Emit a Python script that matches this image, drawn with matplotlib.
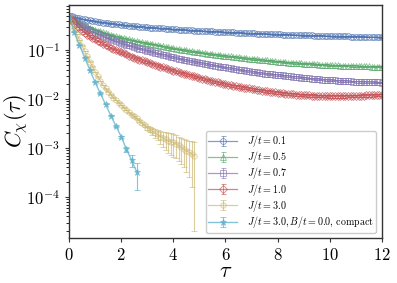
import numpy as np
import matplotlib
matplotlib.use('Agg')
import matplotlib.pyplot as plt

plt.rcParams['mathtext.fontset'] = 'cm'
plt.rcParams['font.family'] = ['cmr10', 'DejaVu Serif']
plt.rcParams['axes.formatter.use_mathtext'] = True

# imaginary time grid (step 0.1) for the long series
tau_long = [round(0.1 * i, 1) for i in range(121)]

c_j01 = [0.500, 0.484, 0.469, 0.455, 0.442, 0.430, 0.420, 0.410, 0.401, 0.393,
         0.385, 0.378, 0.371, 0.364, 0.358, 0.352, 0.347, 0.342, 0.337, 0.332,
         0.327, 0.323, 0.319, 0.315, 0.311, 0.307, 0.304, 0.300, 0.297, 0.294,
         0.291, 0.288, 0.286, 0.283, 0.281, 0.278, 0.276, 0.273, 0.271, 0.268,
         0.266, 0.264, 0.262, 0.260, 0.258, 0.256, 0.254, 0.252, 0.250, 0.249,
         0.247, 0.245, 0.244, 0.242, 0.241, 0.239, 0.238, 0.236, 0.235, 0.233,
         0.232, 0.231, 0.229, 0.228, 0.226, 0.225, 0.224, 0.223, 0.221, 0.220,
         0.219, 0.218, 0.217, 0.216, 0.215, 0.214, 0.213, 0.212, 0.211, 0.210,
         0.209, 0.208, 0.207, 0.206, 0.205, 0.204, 0.203, 0.202, 0.202, 0.201,
         0.200, 0.199, 0.198, 0.198, 0.197, 0.196, 0.195, 0.195, 0.194, 0.194,
         0.193, 0.192, 0.192, 0.191, 0.191, 0.190, 0.189, 0.189, 0.188, 0.188,
         0.187, 0.187, 0.186, 0.186, 0.185, 0.185, 0.184, 0.184, 0.184, 0.183,
         0.183]

c_j05 = [0.500, 0.455, 0.418, 0.388, 0.362, 0.340, 0.321, 0.304, 0.288, 0.273,
         0.260, 0.249, 0.239, 0.229, 0.219, 0.210, 0.203, 0.196, 0.190, 0.184,
         0.178, 0.173, 0.168, 0.164, 0.159, 0.155, 0.151, 0.147, 0.144, 0.140,
         0.137, 0.134, 0.131, 0.128, 0.125, 0.122, 0.119, 0.116, 0.113, 0.110,
         0.108, 0.106, 0.104, 0.102, 0.100, 0.098, 0.096, 0.094, 0.092, 0.091,
         0.089, 0.0876, 0.0862, 0.0848, 0.0834, 0.082, 0.0808, 0.0796, 0.0784, 0.0772,
         0.076, 0.075, 0.074, 0.073, 0.072, 0.071, 0.070, 0.069, 0.068, 0.067,
         0.066, 0.0652, 0.0644, 0.0636, 0.0628, 0.062, 0.0612, 0.0604, 0.0596, 0.0588,
         0.058, 0.0574, 0.0568, 0.0562, 0.0556, 0.055, 0.0546, 0.0542, 0.0538, 0.0534,
         0.053, 0.0526, 0.0522, 0.0518, 0.0514, 0.051, 0.0506, 0.0502, 0.0498, 0.0494,
         0.049, 0.0488, 0.0486, 0.0484, 0.0482, 0.048, 0.0478, 0.0476, 0.0474, 0.0472,
         0.047, 0.0468, 0.0466, 0.0464, 0.0462, 0.0461, 0.0460, 0.0460, 0.0460, 0.0460,
         0.0460]

c_j07 = [0.500, 0.446, 0.400, 0.363, 0.334, 0.310, 0.289, 0.270, 0.253, 0.238,
         0.225, 0.213, 0.202, 0.191, 0.181, 0.172, 0.164, 0.157, 0.150, 0.144,
         0.138, 0.133, 0.128, 0.124, 0.119, 0.115, 0.111, 0.107, 0.104, 0.100,
         0.097, 0.094, 0.091, 0.088, 0.085, 0.082, 0.080, 0.078, 0.075, 0.073,
         0.071, 0.069, 0.067, 0.065, 0.0635, 0.062, 0.0605, 0.059, 0.0576, 0.0563,
         0.055, 0.0538, 0.0526, 0.0514, 0.0502, 0.049, 0.048, 0.047, 0.046, 0.045,
         0.044, 0.0432, 0.0424, 0.0416, 0.0408, 0.040, 0.0392, 0.0384, 0.0376, 0.0368,
         0.036, 0.0354, 0.0348, 0.0342, 0.0336, 0.033, 0.0326, 0.0322, 0.0318, 0.0314,
         0.031, 0.0306, 0.0302, 0.0298, 0.0294, 0.029, 0.0286, 0.0282, 0.0278, 0.0274,
         0.027, 0.0267, 0.0264, 0.0261, 0.0258, 0.0255, 0.0253, 0.0250, 0.0248, 0.0245,
         0.0243, 0.0241, 0.0239, 0.0237, 0.0235, 0.0233, 0.0232, 0.0230, 0.0229, 0.0227,
         0.0226, 0.0225, 0.0223, 0.0222, 0.0221, 0.0220, 0.0219, 0.0219, 0.0218, 0.0218,
         0.0217]

c_j10 = [0.470, 0.405, 0.355, 0.314, 0.279, 0.250, 0.227, 0.207, 0.190, 0.177,
         0.165, 0.154, 0.144, 0.135, 0.126, 0.118, 0.111, 0.105, 0.099, 0.094,
         0.089, 0.085, 0.081, 0.077, 0.073, 0.070, 0.067, 0.064, 0.062, 0.059,
         0.057, 0.0547, 0.0524, 0.0502, 0.048, 0.046, 0.0443, 0.0427, 0.0411, 0.0395,
         0.038, 0.0367, 0.0354, 0.0342, 0.0331, 0.032, 0.031, 0.030, 0.029, 0.028,
         0.027, 0.0262, 0.0254, 0.0246, 0.0238, 0.023, 0.0224, 0.0218, 0.0212, 0.0206,
         0.020, 0.0195, 0.0191, 0.0186, 0.0182, 0.0178, 0.0174, 0.0171, 0.0167, 0.0164,
         0.016, 0.0157, 0.0154, 0.0152, 0.0149, 0.0146, 0.0144, 0.0142, 0.0139, 0.0137,
         0.0135, 0.0133, 0.0131, 0.0129, 0.0128, 0.0126, 0.0125, 0.0123, 0.0122, 0.0121,
         0.0120, 0.0119, 0.0118, 0.0117, 0.0117, 0.0116, 0.0116, 0.0115, 0.0115, 0.0114,
         0.0114, 0.0114, 0.0114, 0.0114, 0.0114, 0.0114, 0.0114, 0.0115, 0.0115, 0.0115,
         0.0116, 0.0116, 0.0117, 0.0117, 0.0118, 0.0119, 0.0119, 0.0120, 0.0121, 0.0121,
         0.0122]

# relative statistical error of the long series
rel_err = [0.02, 0.03, 0.04, 0.06]

tau_j30 = [round(0.1 * i, 1) for i in range(49)]
c_j30 = [0.500, 0.370, 0.280, 0.210, 0.160, 0.123, 0.095, 0.074, 0.058, 0.046,
         0.036, 0.029, 0.0236, 0.0195, 0.0165, 0.0142, 0.0123, 0.0107, 0.0095, 0.0084,
         0.0075, 0.0067, 0.0060, 0.0054, 0.0048, 0.0044, 0.0040, 0.0036, 0.0032, 0.0029,
         0.0026, 0.0024, 0.0022, 0.0020, 0.0019, 0.0017, 0.0016, 0.0015, 0.0014, 0.00135,
         0.0013, 0.00122, 0.00113, 0.00104, 0.00095, 0.00088, 0.00082, 0.00076, 0.00068]
e_j30 = [0.005, 0.004, 0.003, 0.002, 0.0015, 0.0012, 0.001, 0.0008, 0.0006, 0.0005,
         0.0004, 0.0003, 0.00025, 0.0002, 0.00018, 0.00016, 0.00014, 0.00013, 0.00012, 0.00011,
         0.0001, 0.0001, 0.0001, 0.00011, 0.00012, 0.00014, 0.00016, 0.00018, 0.0002, 0.00022,
         0.00025, 0.0003, 0.00035, 0.0004, 0.00045, 0.0005, 0.00055, 0.0006, 0.00062, 0.00064,
         0.00065, 0.0006, 0.00058, 0.00056, 0.00054, 0.00055, 0.00056, 0.0006, 0.00066]

tau_cmp = [0.0, 0.2, 0.4, 0.6, 0.8, 1.0, 1.2, 1.4, 1.6, 1.8, 2.0, 2.2, 2.4, 2.6]
c_cmp = [0.50, 0.23, 0.125, 0.07, 0.039, 0.022, 0.013, 0.0078, 0.0046, 0.0028, 0.0017,
         0.00095, 0.00056, 0.00032]
e_cmp = [0.003, 0.002, 0.001, 0.0006, 0.0003, 0.0002, 0.0001, 0.00008, 0.00006, 0.00006,
         0.00008, 0.00012, 0.00015, 0.00018]

labels = [r'$J/t = 0.1$', r'$J/t = 0.5$', r'$J/t = 0.7$', r'$J/t = 1.0$', r'$J/t = 3.0$',
          r'$J/t = 3.0, B/t = 0.0$, $\mathrm{compact}$']
colors = ['#4C72B0', '#55A868', '#8172B2', '#C44E52', '#CCB974', '#64B5CD']
markers = ['o', '^', 's', 'D', 'h', '*']

fig = plt.figure(figsize=(3.97, 2.83), dpi=100)
ax = fig.add_axes([0.1738, 0.159, 0.7884, 0.8233])

long_series = [c_j01, c_j05, c_j07, c_j10]
for i, c in enumerate(long_series):
    err = np.array(c) * rel_err[i]
    ax.errorbar(tau_long, c, yerr=err, color=colors[i], marker=markers[i], mfc='none',
                ms=4.2, mew=0.6, lw=0.9, elinewidth=0.6, capsize=1.8, alpha=0.7,
                label=labels[i])
ax.errorbar(tau_j30, c_j30, yerr=e_j30, color=colors[4], marker=markers[4], mfc='none',
            ms=4.2, mew=0.6, lw=0.9, elinewidth=0.8, capsize=2, alpha=0.7, label=labels[4])
ax.errorbar(tau_cmp, c_cmp, yerr=e_cmp, color=colors[5], marker=markers[5],
            ms=5, mew=0.6, lw=1.0, elinewidth=0.8, capsize=2, alpha=0.8, label=labels[5])

ax.set_yscale('log')
ax.set_xlim(0, 12)
ax.set_ylim(1.45e-5, 0.83)
ax.set_xticks([0, 2, 4, 6, 8, 10, 12])
ax.tick_params(labelsize=12, direction='out', length=3, width=0.8, colors='#333333',
               labelcolor='black')
ax.tick_params(which='minor', length=2, width=0.6)
for s in ax.spines.values():
    s.set_color('#333333')
    s.set_linewidth(1.0)
ax.set_xlabel(r'$\tau$', fontsize=16, labelpad=-1)
ax.set_ylabel(r'$C_\chi(\tau)$', fontsize=16, labelpad=-3)
leg = ax.legend(loc='lower right', fontsize=7.2, framealpha=1, edgecolor='#cccccc',
                labelspacing=0.02, borderpad=0.25, borderaxespad=0.55, handletextpad=1.0,
                handlelength=2.9)
fig.savefig('out.png', dpi=100)
